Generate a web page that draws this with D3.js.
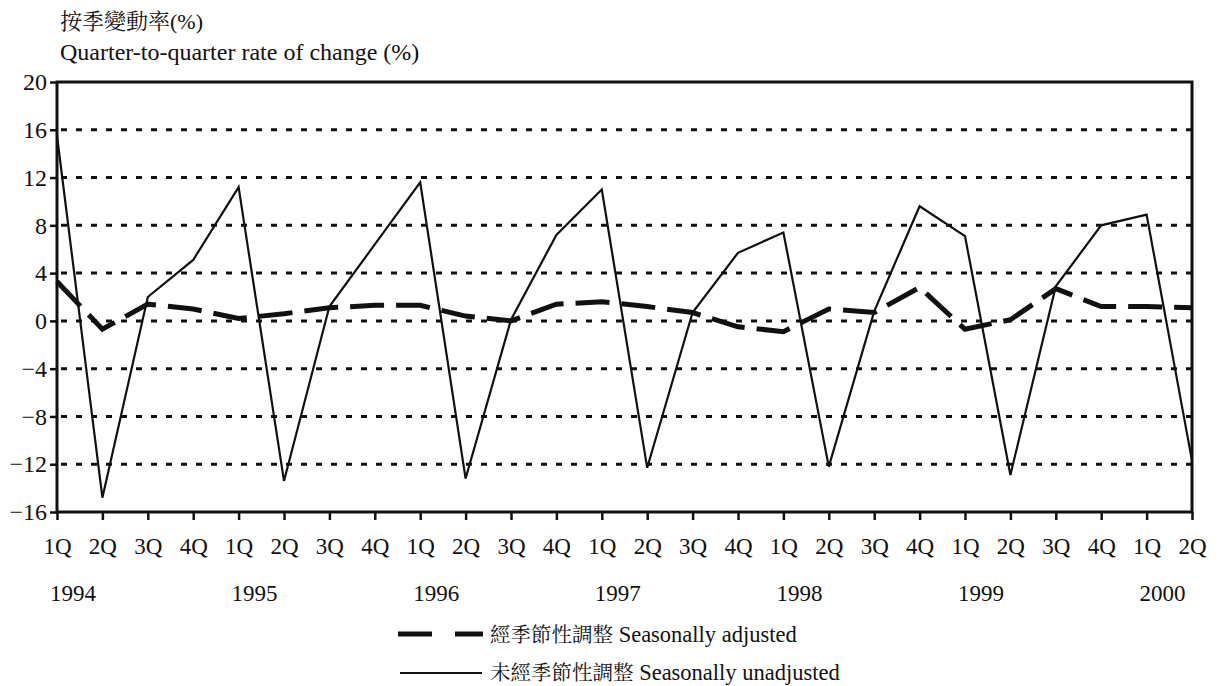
<!DOCTYPE html>
<html>
<head>
<meta charset="utf-8">
<script src="https://cdn.jsdelivr.net/npm/d3@7"></script>
</head>
<body style="margin:0">
<svg id="chart" width="1219" height="686"></svg>
<script>
// Quarter-to-quarter rate of change, 1Q 1994 - 2Q 2000

const quarters = ['1Q','2Q','3Q','4Q','1Q','2Q','3Q','4Q','1Q','2Q','3Q','4Q','1Q',
                  '2Q','3Q','4Q','1Q','2Q','3Q','4Q','1Q','2Q','3Q','4Q','1Q','2Q'];
const years = ['1994','1995','1996','1997','1998','1999','2000'];
const yTicks = [20, 16, 12, 8, 4, 0, -4, -8, -12, -16];

const adjusted = [3.3, -0.7, 1.4, 1.0, 0.2, 0.6, 1.1, 1.3, 1.3, 0.4, 0.0, 1.4, 1.6,
                  1.2, 0.7, -0.5, -0.9, 1.0, 0.7, 2.8, -0.7, 0.1, 2.7, 1.2, 1.2, 1.1];
const unadjusted = [15.5, -14.8, 2.0, 5.1, 11.2, -13.4, 1.2, 6.4, 11.6, -13.2, 0.1, 7.2, 11.0,
                    -12.3, 0.7, 5.7, 7.4, -12.2, 0.8, 9.6, 7.1, -12.9, 2.9, 8.0, 8.9, -11.7];

// plot box
const plotLeft = 57, plotRight = 1192, plotTop = 82, plotBottom = 512;
// one quoted family per text element
const latin = '"Liberation Serif"';
const cjk = '"Noto Serif CJK TC"';
const ink = '#111';

const svg = d3.select('#chart');

const x = d3.scaleLinear()
    .domain([0, quarters.length - 1])
    .range([plotLeft, plotRight]);

const y = d3.scaleLinear()
    .domain([-16, 20])
    .range([plotBottom, plotTop]);

// Titles
const title = svg.append('text')
    .attr('x', 60).attr('y', 29)
    .attr('font-family', cjk)
    .attr('font-size', 22)
    .attr('fill', ink);

title.append('tspan')
    .attr('font-family', cjk)
    .text('按季變動率');

title.append('tspan')
    .attr('font-family', latin)
    .text('(%)');

svg.append('text')
    .attr('x', 60).attr('y', 60)
    .attr('font-family', latin)
    .attr('font-size', 24)
    .attr('fill', ink)
    .text('Quarter-to-quarter rate of change (%)');

// Dotted grid lines
svg.append('g')
    .selectAll('line')
    .data(yTicks.filter(d => d !== 20 && d !== -16))
    .join('line')
    .attr('x1', plotLeft + 4)
    .attr('x2', plotRight)
    .attr('y1', d => y(d))
    .attr('y2', d => y(d))
    .attr('stroke', ink)
    .attr('stroke-width', 3)
    .attr('stroke-dasharray', '6,9');

// Y axis
const yAxis = svg.append('g')
    .attr('transform', `translate(${plotLeft},0)`)
    .call(d3.axisLeft(y).tickValues(yTicks).tickSize(7).tickPadding(3).tickFormat(d3.format('d')));

yAxis.attr('font-family', latin).attr('font-size', 24);
yAxis.select('.domain').remove();
yAxis.selectAll('line').attr('stroke', ink).attr('stroke-width', 2.5);
yAxis.selectAll('text')
    .attr('fill', ink)
    .attr('font-family', latin)
    .attr('font-size', 24);

// X axis
const xAxis = svg.append('g')
    .attr('transform', `translate(0,${plotBottom})`)
    .call(d3.axisBottom(x).tickValues(d3.range(quarters.length)).tickSize(8).tickPadding(18)
        .tickFormat(i => quarters[i]));

xAxis.attr('font-family', latin).attr('font-size', 23);
xAxis.select('.domain').remove();
xAxis.selectAll('line').attr('stroke', ink).attr('stroke-width', 2.5);
xAxis.selectAll('text')
    .attr('fill', ink)
    .attr('font-family', latin)
    .attr('font-size', 23);

// Year labels under each 1Q
svg.append('g')
    .selectAll('text')
    .data(years)
    .join('text')
    .attr('x', (d, i) => x(i * 4) + 16)
    .attr('y', 601)
    .attr('text-anchor', 'middle')
    .attr('font-family', latin)
    .attr('font-size', 23)
    .attr('fill', ink)
    .text(d => d);

// Frame around the plot
svg.append('rect')
    .attr('x', plotLeft)
    .attr('y', plotTop)
    .attr('width', plotRight - plotLeft)
    .attr('height', plotBottom - plotTop)
    .attr('fill', 'none')
    .attr('stroke', ink)
    .attr('stroke-width', 3);

// Lines
const line = d3.line()
    .x((d, i) => x(i))
    .y(d => y(d));

svg.append('path')
    .datum(unadjusted)
    .attr('d', line)
    .attr('fill', 'none')
    .attr('stroke', ink)
    .attr('stroke-width', 2.2);

svg.append('path')
    .datum(adjusted)
    .attr('d', line)
    .attr('fill', 'none')
    .attr('stroke', ink)
    .attr('stroke-width', 5)
    .attr('stroke-dasharray', '34,12');

// Legend
const legend = svg.append('g');

legend.append('line')
    .attr('x1', 398).attr('x2', 432)
    .attr('y1', 634).attr('y2', 634)
    .attr('stroke', ink).attr('stroke-width', 5);

legend.append('line')
    .attr('x1', 455).attr('x2', 483)
    .attr('y1', 634).attr('y2', 634)
    .attr('stroke', ink).attr('stroke-width', 5);

legend.append('line')
    .attr('x1', 400).attr('x2', 482)
    .attr('y1', 673).attr('y2', 673)
    .attr('stroke', ink).attr('stroke-width', 2);

const legendText = legend.selectAll('text')
    .data([['經季節性調整', 'Seasonally adjusted', 642], ['未經季節性調整', 'Seasonally unadjusted', 680]])
    .join('text')
    .attr('x', 490)
    .attr('y', d => d[2])
    .attr('font-family', latin)
    .attr('font-size', 22)
    .attr('fill', ink);

legendText.append('tspan')
    .attr('font-family', cjk)
    .attr('font-size', 20.5)
    .text(d => d[0]);

legendText.append('tspan')
    .attr('font-family', latin)
    .attr('font-size', 22.5)
    .text(d => ' ' + d[1]);

</script>
</body>
</html>
